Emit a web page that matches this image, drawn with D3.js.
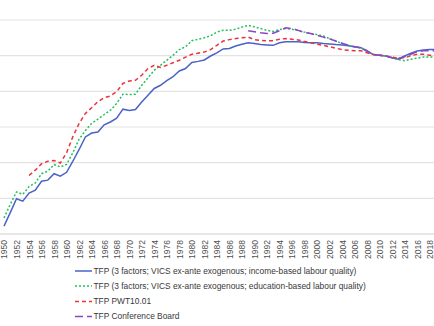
<!DOCTYPE html>
<html><head><meta charset="utf-8">
<script src="https://cdn.jsdelivr.net/npm/d3@7"></script>
<style>
html,body{margin:0;padding:0;background:#fff;}
svg{display:block;}
</style></head>
<body>
<svg id="chart" width="434" height="326"></svg>
<script>
const years = d3.range(1950, 2020);
const tickYears = [1950,1952,1954,1956,1958,1960,1962,1964,1966,1968,1970,1972,1974,1976,1978,1980,1982,1984,1986,1988,1990,1992,1994,1996,1998,2000,2002,2004,2006,2008,2010,2012,2014,2016,2018];
const gridValues = [0.5,0.6,0.7,0.8,0.9,1.0,1.1];

// TFP (3 factors; VICS ex-ante exogenous; income-based labour quality), 1950-2019
const tfpIncome = [0.522,0.560,0.599,0.592,0.615,0.623,0.648,0.651,0.669,0.662,
  0.673,0.704,0.737,0.772,0.783,0.786,0.806,0.814,0.825,0.850,
  0.846,0.849,0.870,0.889,0.908,0.917,0.930,0.941,0.957,0.964,
  0.981,0.984,0.988,0.999,1.008,1.019,1.020,1.027,1.032,1.036,
  1.034,1.031,1.030,1.029,1.036,1.039,1.039,1.039,1.037,1.036,
  1.036,1.034,1.033,1.031,1.030,1.028,1.025,1.022,1.013,1.003,
  1.001,0.999,0.994,0.990,0.999,1.007,1.013,1.016,1.017,1.017];
// TFP (3 factors; VICS ex-ante exogenous; education-based labour quality), 1950-2019
const tfpEducation = [0.545,0.583,0.618,0.611,0.633,0.643,0.669,0.676,0.695,0.688,
  0.695,0.728,0.766,0.790,0.810,0.822,0.835,0.847,0.866,0.892,
  0.891,0.892,0.917,0.938,0.959,0.973,0.987,1.001,1.017,1.025,
  1.042,1.046,1.050,1.056,1.066,1.071,1.071,1.074,1.080,1.085,
  1.081,1.076,1.071,1.068,1.073,1.076,1.074,1.070,1.066,1.062,
  1.059,1.055,1.048,1.041,1.034,1.029,1.025,1.022,1.013,1.003,
  1.001,0.999,0.994,0.989,0.986,0.990,0.993,0.996,0.996,0.996];
// TFP PWT10.01, 1954-2019
const pwtYears = d3.range(1954, 2020);
const tfpPWT = [0.664,0.679,0.697,0.704,0.706,0.699,
  0.728,0.773,0.810,0.838,0.854,0.871,0.882,0.887,0.899,0.922,
  0.929,0.931,0.945,0.964,0.973,0.967,0.973,0.980,0.987,0.996,
  1.004,1.007,1.010,1.017,1.029,1.041,1.045,1.048,1.050,1.052,
  1.045,1.043,1.042,1.042,1.046,1.048,1.046,1.044,1.040,1.036,
  1.032,1.029,1.025,1.021,1.017,1.015,1.014,1.014,1.008,1.003,
  1.001,0.999,0.996,0.993,0.994,1.000,1.004,1.004,1.001,1.001];
// TFP Conference Board, 1989-2019
const cbYears = d3.range(1989, 2020);
const tfpCB = [1.070,
  1.067,1.064,1.062,1.063,1.070,1.078,1.076,1.071,1.065,1.062,
  1.057,1.052,1.047,1.041,1.035,1.029,1.025,1.022,1.013,1.003,
  1.001,0.999,0.994,0.992,0.997,1.004,1.011,1.014,1.014,1.014];

const seriesNames = [
  "TFP (3 factors; VICS ex-ante exogenous; income-based labour quality)",
  "TFP (3 factors; VICS ex-ante exogenous; education-based labour quality)",
  "TFP PWT10.01",
  "TFP Conference Board"
];
const seriesColors = ["#4a63c8", "#22c05e", "#e8343c", "#8e44c8"];
const seriesDash = [null, "2,2", "4,3", "8,4"];

const series = [
  {name: seriesNames[0], years: years, values: tfpIncome},
  {name: seriesNames[1], years: years, values: tfpEducation},
  {name: seriesNames[2], years: pwtYears, values: tfpPWT},
  {name: seriesNames[3], years: cbYears, values: tfpCB}
];

const svg = d3.select("#chart");
const x = d3.scaleLinear().domain([1950, 2018]).range([4, 429.7]);
const y = d3.scaleLinear().domain([0.5, 1.1]).range([234, 20]);

// gridlines
svg.append("g").selectAll("line").data(gridValues).join("line")
  .attr("x1", 0).attr("x2", 434)
  .attr("y1", d => y(d)).attr("y2", d => y(d))
  .attr("stroke", d => d === 0.5 ? "#d0d0d0" : "#e3e3e3")
  .attr("stroke-width", 1.2);

// x axis labels
const xAxis = d3.axisBottom(x).tickValues(tickYears).tickFormat(d3.format("d")).tickSize(0);
const gx = svg.append("g").attr("transform", `translate(0,${y(0.5)})`).call(xAxis);
gx.select(".domain").remove();
gx.selectAll("text")
  .attr("transform", "rotate(-90)")
  .attr("x", -6).attr("y", 0).attr("dy", "0.35em")
  .attr("text-anchor", "end")
  .attr("fill", "#505050")
  .style("font-family", "'Liberation Sans', Arial, sans-serif")
  .style("font-size", "8.5px");

// lines
const line = d3.line().x(d => x(d[0])).y(d => y(d[1]));
series.forEach((s, i) => {
  svg.append("path")
    .datum(s.years.map((yr, k) => [yr, s.values[k]]))
    .attr("d", line)
    .attr("fill", "none")
    .attr("stroke", seriesColors[i])
    .attr("stroke-width", 1.5)
    .attr("stroke-dasharray", seriesDash[i]);
});

// legend
const legend = svg.append("g");
const legendRows = [271, 286, 301.5, 316.5];
series.forEach((s, i) => {
  const g = legend.append("g").attr("transform", `translate(75,${legendRows[i]})`);
  g.append("line").attr("x1", 0).attr("x2", 17).attr("y1", 0).attr("y2", 0)
    .attr("stroke", seriesColors[i]).attr("stroke-width", 1.5)
    .attr("stroke-dasharray", seriesDash[i]);
  g.append("text").attr("x", 18.5).attr("y", 0).attr("dy", "0.35em")
    .attr("fill", "#383838")
    .style("font-family", "'Liberation Sans', Arial, sans-serif")
    .style("font-size", "8.4px")
    .text(s.name);
});
</script>
</body></html>
